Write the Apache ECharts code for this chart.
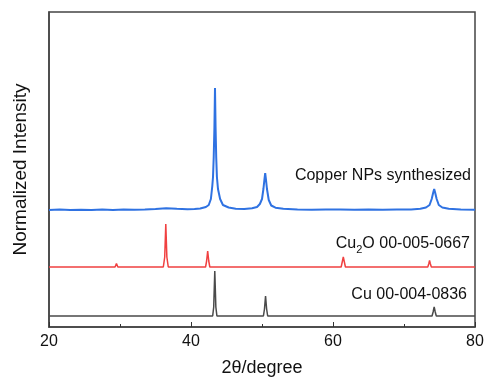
<!DOCTYPE html>
<html><head><meta charset="utf-8">
<script src="https://cdn.jsdelivr.net/npm/echarts@6/dist/echarts.min.js"></script>
<style>html,body{margin:0;padding:0;background:#fff}#c{width:484px;height:380px}</style>
</head><body><div id="c"></div>
<script>
// x-axis ticks
var xTicks = [20, 40, 60, 80];
// Copper NPs synthesized (offset trace) [2theta, intensity]
var blueData = [
 [20,117],[21.5,117.4],[23,116.9],[24.5,117.3],[26,117],[27.5,117.4],[29,117.1],[30.5,117.4],[32,117.2],[33.5,117.5],[35,118],[36.5,118.8],[38,118.2],[39.5,117.8],[40.5,117.9],[41.3,118.5],[42.1,120],[42.5,122],[42.8,128],[43.0,141],[43.1,150],[43.2,170],[43.3,200],[43.38,239],[43.46,200],[43.55,170],[43.65,150],[43.8,138],[44.1,128],[44.5,122],[45.3,119.5],[46.3,118.3],[47.5,118],[48.6,118.8],[49.3,120],[49.7,123],[50.0,128],[50.2,138],[50.35,148],[50.45,154],[50.55,148],[50.7,138],[50.95,127],[51.3,121.5],[51.9,119.3],[53,118.2],[55,117.5],[57,117.3],[59,117.6],[61,117.4],[63,117.2],[65,117.5],[67,117.3],[69,117.5],[71,117.6],[72.3,118.2],[73.1,119.5],[73.6,122],[73.9,128],[74.1,134],[74.25,138],[74.4,134],[74.6,128],[74.9,122],[75.4,119.5],[76.3,118.2],[78,117.5],[80,117.3]
];
// Cu2O 00-005-0667
var redData = [
 [20,60],[29.3,60],[29.5,63.5],[29.7,60],[36.1,60],[36.3,70],[36.45,103],[36.6,70],[36.8,60],[42.05,60],[42.2,66],[42.35,76],[42.5,66],[42.65,60],[61.15,60],[61.3,65],[61.45,70],[61.6,65],[61.75,60],[73.35,60],[73.5,63.5],[73.6,66.5],[73.7,63.5],[73.85,60],[77.3,60],[77.5,62],[77.7,60],[80,60]
];
// Cu 00-004-0836
var blackData = [
 [20,11],[43.05,11],[43.2,20],[43.35,56],[43.5,20],[43.65,11],[50.2,11],[50.35,18],[50.5,31],[50.65,18],[50.8,11],[73.95,11],[74.1,15],[74.25,20],[74.4,15],[74.55,11],[80,11]
];
var labels = ['Copper NPs synthesized', 'Cu2O 00-005-0667', 'Cu 00-004-0836'];

var chart = echarts.init(document.getElementById('c'), null, {renderer: 'canvas'});
var font = 'Liberation Sans, Arial, sans-serif';
chart.setOption({
  animation: false,
  grid: {left: 49, right: 9, top: 12, bottom: 53, containLabel: false, outerBoundsMode: 'none',
         show: true, borderColor: '#444', borderWidth: 1.5},
  xAxis: {
    type: 'value', min: 20, max: 80, interval: 20,
    name: '2θ/degree', nameLocation: 'middle', nameGap: 32,
    nameTextStyle: {fontFamily: font, fontSize: 18, color: '#111'},
    axisLine: {lineStyle: {color: '#444', width: 1.5}},
    axisTick: {inside: true, length: 5, lineStyle: {color: '#333'}},
    minorTick: {show: true, splitNumber: 2, length: 3, lineStyle: {color: '#333'}},
    axisLabel: {fontFamily: font, fontSize: 16, color: '#111', margin: 7,
      formatter: function (v) { return xTicks.indexOf(v) >= 0 ? String(v) : ''; }},
    splitLine: {show: false}
  },
  yAxis: {
    type: 'value', min: 0, max: 315,
    name: 'Normalized Intensity', nameLocation: 'middle', nameGap: 19,
    nameTextStyle: {fontFamily: font, fontSize: 19, color: '#111'},
    axisLine: {show: true, lineStyle: {color: '#444', width: 1.5}},
    axisTick: {show: false}, axisLabel: {show: false}, splitLine: {show: false}
  },
  series: [
    {type: 'line', data: blueData, showSymbol: false, lineStyle: {color: '#2f72e2', width: 2}},
    {type: 'line', data: redData, showSymbol: false, lineStyle: {color: '#f04040', width: 1.5}},
    {type: 'line', data: blackData, showSymbol: false, lineStyle: {color: '#4a4a4a', width: 1.5}}
  ],
  graphic: [
    {type: 'text', right: 13, top: 168, style: {text: labels[0], font: '16px ' + font, fill: '#111'}},
    {type: 'text', right: 14, top: 236, style: {text: '{a|Cu}{s|2}{a|O 00-005-0667}', font: '16px ' + font, fill: '#111',
      rich: {a: {fontSize: 16, fontFamily: font, color: '#111', verticalAlign: 'bottom'}, s: {fontSize: 11, fontFamily: font, color: '#111', verticalAlign: 'bottom', padding: [0,0,-3,0]}}}},
    {type: 'text', right: 17, top: 287, style: {text: labels[2], font: '16px ' + font, fill: '#111'}}
  ]
});
</script></body></html>
